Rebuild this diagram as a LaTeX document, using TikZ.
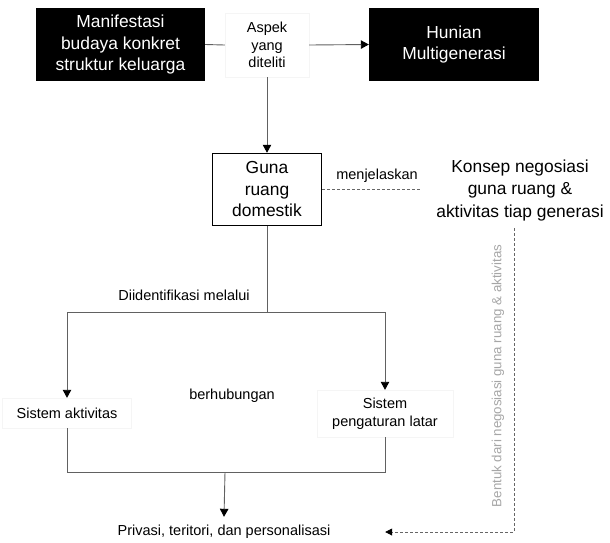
\documentclass[tikz,border=0pt]{standalone}
\usepackage{fontspec}
\setmainfont{Liberation Sans}
\usetikzlibrary{arrows.meta}
\begin{document}
\begin{tikzpicture}[x=1pt,y=-1pt,
  blackbox/.style={fill=black,text=white,font=\fontsize{17.4}{21.5}\selectfont,align=center,inner sep=0pt},
  plainbox/.style={draw=black,line width=1.5pt,font=\fontsize{17.4}{21.5}\selectfont,align=center,inner sep=0pt},
  bigtext/.style={font=\fontsize{17.4}{22.5}\selectfont,align=center,inner sep=0pt},
  smalltext/.style={font=\fontsize{14.5}{17.8}\selectfont,align=center,inner sep=0pt},
  faint/.style={draw=black!4},
  conn/.style={draw=black!62,line width=0.9pt},
  arr/.style={-{Triangle[length=8pt,width=8.5pt,color=black]}},
  dashline/.style={draw=black!60,line width=0.8pt,dash pattern=on 3pt off 2pt},
  larr/.style={-{Triangle[length=7pt,width=7pt,color=black]}}
]
\useasboundingbox (0,0) rectangle (610,542);

% top row
\node[blackbox,minimum width=169pt,minimum height=73pt] (manif) at (120.5,44.5) {Manifestasi\\budaya konkret\\struktur keluarga};
\node[smalltext,faint,minimum width=84pt,minimum height=64pt] (aspek) at (267,45) {Aspek\\yang\\diteliti};
\node[blackbox,minimum width=170pt,minimum height=73pt] (hunian) at (454,44.5) {Hunian\\Multigenerasi};

\draw[conn] (manif.east) -- (aspek.west);
\draw[conn,arr] (aspek.east) -- (hunian.west);

% middle
\node[plainbox,minimum width=109pt,minimum height=72pt] (guna) at (267,189.5) {Guna\\ruang\\domestik};
\draw[conn,arr] (aspek.south) -- (guna.north);

\node[smalltext] (menj) at (377,176) {menjelaskan};
\node[bigtext,minimum width=180pt,minimum height=76pt] (konsep) at (520,190) {Konsep negosiasi\\guna ruang \&\\aktivitas tiap generasi};
\coordinate (dashend) at (420,189.5);
\draw[dashline] (guna.east) -- (dashend);

% split
\node[smalltext] (diid) at (184,295) {Diidentifikasi melalui};
\coordinate (split) at (267,312);
\draw[conn] (guna.south) -- (split);

\node[smalltext,faint,minimum width=129pt,minimum height=30pt] (sisakt) at (67,413) {Sistem aktivitas};
\node[smalltext,faint,minimum width=136pt,minimum height=47pt] (sispeng) at (385,413.5) {Sistem\\pengaturan latar};
\node[smalltext] (berh) at (232,396) {berhubungan};

\draw[conn,arr] (split) -| (sisakt.north);
\draw[conn,arr] (split) -| (sispeng.north);

\coordinate (merge) at (225,472);
\draw[conn] (sisakt.south) -- (sisakt.south |- merge) -- (sispeng.south |- merge) -- (sispeng.south);

\node[smalltext,minimum width=322pt,minimum height=30pt] (privasi) at (224,532) {Privasi, teritori, dan personalisasi};
\draw[conn,arr] (merge) -- (privasi.north);

% dashed feedback
\coordinate (corner) at (514,532);
\draw[dashline,larr] (konsep.south -| corner) -- (corner) -- (privasi.east);
\node[smalltext,font=\fontsize{13.3}{16}\selectfont,text=black!35,rotate=90] (bentuk) at (498,376) {Bentuk dari negosiasi guna ruang \& aktivitas};

\end{tikzpicture}
\end{document}
